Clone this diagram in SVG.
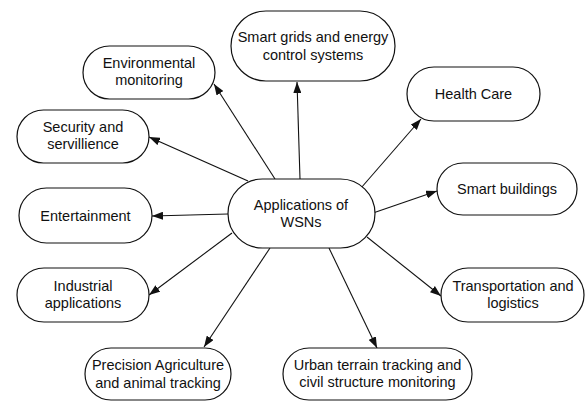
<svg xmlns="http://www.w3.org/2000/svg" width="585" height="401" viewBox="0 0 585 401">
<style>
.n{fill:#fff;stroke:#111;stroke-width:1.2}
.t{font-family:"Liberation Sans",Arial,sans-serif;font-size:14.5px;fill:#111;text-anchor:middle}
.c line{stroke:#111;stroke-width:1.1;marker-end:url(#ah)}
</style>
<defs>
<marker id="ah" markerUnits="userSpaceOnUse" markerWidth="12" markerHeight="8" refX="11" refY="4" orient="auto">
<path d="M0,0 L11,4 L0,8 z" fill="#111"/>
</marker>
</defs>
<rect width="585" height="401" fill="#fff"/>
<g class="c" id="connectors">
<line x1="275" y1="179" x2="214" y2="84"/>
<line x1="248" y1="181" x2="149" y2="137"/>
<line x1="300" y1="179" x2="297" y2="82"/>
<line x1="361" y1="188" x2="421" y2="119"/>
<line x1="373" y1="213" x2="437" y2="191"/>
<line x1="228" y1="214" x2="152" y2="216"/>
<line x1="232" y1="233" x2="149" y2="295"/>
<line x1="270" y1="248" x2="204" y2="347"/>
<line x1="329" y1="248" x2="377" y2="348"/>
<line x1="367" y1="237" x2="441" y2="296"/>
</g>
<g id="center">
<rect class="n" x="228" y="179" width="147" height="69" rx="34.5"/>
<text class="t" x="301" y="210">Applications of</text>
<text class="t" x="301" y="226.5">WSNs</text>
</g>
<g id="env">
<rect class="n" x="83" y="46" width="132" height="53" rx="26.5"/>
<text class="t" x="149" y="68">Environmental</text>
<text class="t" x="149" y="85">monitoring</text>
</g>
<g id="security">
<rect class="n" x="17" y="110" width="132" height="53" rx="26.5"/>
<text class="t" x="83" y="132">Security and</text>
<text class="t" x="83" y="149">servillience</text>
</g>
<g id="smartgrids">
<rect class="n" x="231" y="11" width="164" height="70" rx="35"/>
<text class="t" x="313" y="42">Smart grids and energy</text>
<text class="t" x="313" y="59.5">control systems</text>
</g>
<g id="health">
<rect class="n" x="407" y="67" width="133" height="54" rx="27"/>
<text class="t" x="473.5" y="98.5">Health Care</text>
</g>
<g id="buildings">
<rect class="n" x="437" y="163" width="140" height="52" rx="26"/>
<text class="t" x="507" y="193.5">Smart buildings</text>
</g>
<g id="entertainment">
<rect class="n" x="19" y="188" width="133" height="55" rx="27.5"/>
<text class="t" x="85.5" y="220.5">Entertainment</text>
</g>
<g id="industrial">
<rect class="n" x="17" y="268" width="132" height="54" rx="27"/>
<text class="t" x="83" y="290.5">Industrial</text>
<text class="t" x="83" y="308">applications</text>
</g>
<g id="precision">
<rect class="n" x="85" y="348" width="146" height="52" rx="26"/>
<text class="t" x="158" y="370">Precision Agriculture</text>
<text class="t" x="158" y="387.5">and animal tracking</text>
</g>
<g id="urban">
<rect class="n" x="283" y="348" width="189" height="52" rx="26"/>
<text class="t" x="377.5" y="369.5">Urban terrain tracking and</text>
<text class="t" x="377.5" y="387">civil structure monitoring</text>
</g>
<g id="transport">
<rect class="n" x="441" y="268" width="143" height="54" rx="27"/>
<text class="t" x="513" y="290.5">Transportation and</text>
<text class="t" x="513" y="308">logistics</text>
</g>
</svg>
